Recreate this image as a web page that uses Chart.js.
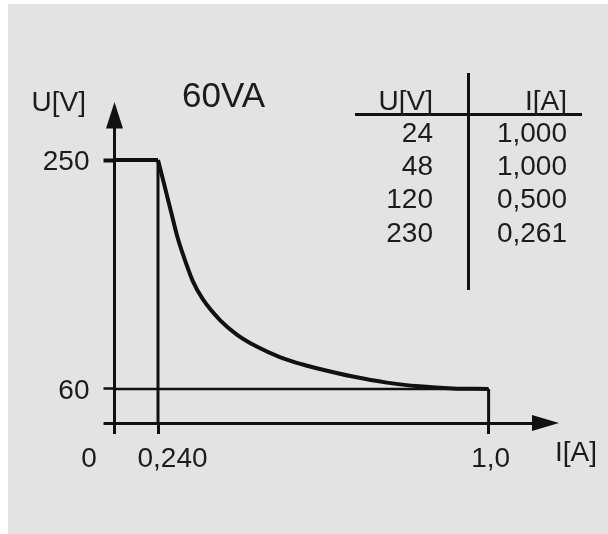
<!DOCTYPE html>
<html>
<head>
<meta charset="utf-8">
<script src="https://cdn.jsdelivr.net/npm/chart.js@4.4.0/dist/chart.umd.min.js"></script>
<style>
  html, body { margin: 0; padding: 0; background: #fff; }
  #panel { position: absolute; left: 8px; top: 4px; right: 0; bottom: 0; background: #e3e3e3; }
  #wrap { position: absolute; left: 0; top: 0; width: 608px; height: 534px; }
</style>
</head>
<body>
<div id="panel"></div>
<div id="wrap"><canvas id="chart"></canvas></div>
<script>
// 60VA output characteristic, U over I
const title = "60VA";
const xTitle = "I[A]";
const yTitle = "U[V]";

const xTicks = [0, 0.24, 1.0];
const xTickLabels = ["0", "0,240", "1,0"];
const yTicks = [0, 60, 250];
const yTickLabels = ["", "60", "250"];

// curve (I in A, U in V)
const curveCurrent = [0.24, 0.254, 0.27, 0.284, 0.298, 0.32, 0.343, 0.383, 0.422, 0.468, 0.52, 0.573, 0.612, 0.688, 0.766, 0.842, 0.918, 1.0];
const curveVoltage = [250, 230, 207, 187, 171, 149.5, 134.5, 117, 105, 95, 86.5, 80.3, 76.6, 70.3, 65.3, 62.2, 60.5, 60];

// little table top right
const tableVoltage = [24, 48, 120, 230];
const tableCurrent = [1.0, 1.0, 0.5, 0.261];

const [iZero, iKnee, iRated] = xTicks;
const [uZero, uMin, uMax] = yTicks;

// the drawing is not to scale: where each tick sits as a fraction of the plot area
const xTickFrac = [0, 0.10035, 0.86298];
const yTickFrac = [0, 0.10794, 0.83492];
const xLabelShift = [-25.5, 14.5, 2];

const FONT = '"Liberation Sans", Arial, sans-serif';
const INK = "#111";
const TEXT = "#1c1c1c";

function fracOf(ticks, fracs, v) {
  let i = 1;
  while (i < ticks.length - 1 && v > ticks[i]) i++;
  const v0 = ticks[i - 1], v1 = ticks[i], f0 = fracs[i - 1], f1 = fracs[i];
  return f0 + (v - v0) * (f1 - f0) / (v1 - v0);
}

// piecewise linear scale through the tick positions
class SchematicScale extends Chart.LinearScale {
  stops() {
    return this.axis === "x" ? [xTicks, xTickFrac] : [yTicks, yTickFrac];
  }
  getPixelForValue(value) {
    if (value === null || isNaN(value)) return NaN;
    const [t, f] = this.stops();
    const k = fracOf(t, f, value);
    return this.isHorizontal() ? this.left + k * this.width : this.bottom - k * this.height;
  }
  getValueForPixel(pixel) {
    const [t, f] = this.stops();
    const k = this.isHorizontal() ? (pixel - this.left) / this.width : (this.bottom - pixel) / this.height;
    return fracOf(f, t, k);
  }
}
SchematicScale.id = "schematic";
SchematicScale.defaults = {};
Chart.register(SchematicScale);

const decorations = {
  id: "decorations",
  afterDraw(chart) {
    const { ctx, chartArea: a, scales: { x, y } } = chart;
    ctx.save();

    // arrow heads
    ctx.fillStyle = INK;
    ctx.beginPath();
    ctx.moveTo(a.left, a.top - 6);
    ctx.lineTo(a.left - 8.5, a.top + 20.5);
    ctx.lineTo(a.left + 8.5, a.top + 20.5);
    ctx.closePath();
    ctx.fill();
    ctx.beginPath();
    ctx.moveTo(a.right + 11, a.bottom);
    ctx.lineTo(a.right - 16, a.bottom - 8);
    ctx.lineTo(a.right - 16, a.bottom + 8);
    ctx.closePath();
    ctx.fill();

    // tick labels
    ctx.fillStyle = TEXT;
    ctx.font = "28px " + FONT;
    ctx.textBaseline = "alphabetic";
    ctx.textAlign = "right";
    yTicks.forEach((v, i) => ctx.fillText(yTickLabels[i], a.left - 25, y.getPixelForValue(v) + 10));
    ctx.textAlign = "center";
    xTicks.forEach((v, i) => ctx.fillText(xTickLabels[i], x.getPixelForValue(v) + xLabelShift[i], a.bottom + 43.5));

    // axis names and title
    ctx.textAlign = "left";
    ctx.fillText(yTitle, 31.5, 111);
    ctx.fillText(xTitle, 555, 461);
    ctx.font = "35px " + FONT;
    ctx.fillText(title, 182, 107);

    // table
    ctx.strokeStyle = INK;
    ctx.lineWidth = 3;
    ctx.beginPath();
    ctx.moveTo(355, 114.5); ctx.lineTo(582, 114.5);
    ctx.moveTo(468.5, 73); ctx.lineTo(468.5, 290);
    ctx.stroke();
    ctx.font = "28px " + FONT;
    ctx.textAlign = "right";
    ctx.fillText(yTitle, 433, 110);
    ctx.fillText(xTitle, 567, 110);
    tableVoltage.forEach((u, i) => {
      const base = 141.7 + i * 33.3;
      ctx.fillText(String(u), 433, base);
      ctx.fillText(tableCurrent[i].toFixed(3).replace(".", ","), 567, base);
    });
    ctx.restore();
  }
};

function seg(x0, y0, x1, y1, width) {
  return {
    data: [{ x: x0, y: y0 }, { x: x1, y: y1 }],
    borderColor: INK, borderWidth: width, pointRadius: 0, showLine: true, tension: 0
  };
}

const curve = {
  data: curveCurrent.map((c, i) => ({ x: c, y: curveVoltage[i] })),
  borderColor: INK, borderWidth: 4, pointRadius: 0, showLine: true,
  cubicInterpolationMode: "monotone"
};

new Chart(document.getElementById("chart"), {
  type: "scatter",
  data: {
    datasets: [
      seg(iZero, uMax, iKnee, uMax, 4),
      seg(iKnee, uZero, iKnee, uMax, 3),
      seg(iZero, uMin, iRated, uMin, 2.5),
      seg(iRated, uZero, iRated, uMin, 3),
      curve
    ]
  },
  options: {
    responsive: true,
    maintainAspectRatio: false,
    animation: false,
    events: [],
    layout: { padding: { left: 103.5, top: 108, right: 60, bottom: 100 } },
    plugins: { legend: { display: false }, tooltip: { enabled: false } },
    scales: {
      x: {
        type: "schematic", min: 0, max: 1.15,
        afterBuildTicks: ax => { ax.ticks = xTicks.map(v => ({ value: v })); },
        ticks: { display: false },
        grid: { drawOnChartArea: false, tickLength: 11, tickWidth: 3, tickColor: INK },
        border: { width: 3, color: INK }
      },
      y: {
        type: "schematic", min: 0, max: 300,
        afterBuildTicks: ax => { ax.ticks = yTicks.map(v => ({ value: v })); },
        ticks: { display: false },
        grid: {
          drawOnChartArea: false, tickLength: 11, tickColor: INK,
          tickWidth: c => (c.tick && c.tick.value === uMax ? 4 : c.tick && c.tick.value === uMin ? 2.5 : 3)
        },
        border: { width: 3, color: INK }
      }
    }
  },
  plugins: [decorations]
});
</script>
</body>
</html>
